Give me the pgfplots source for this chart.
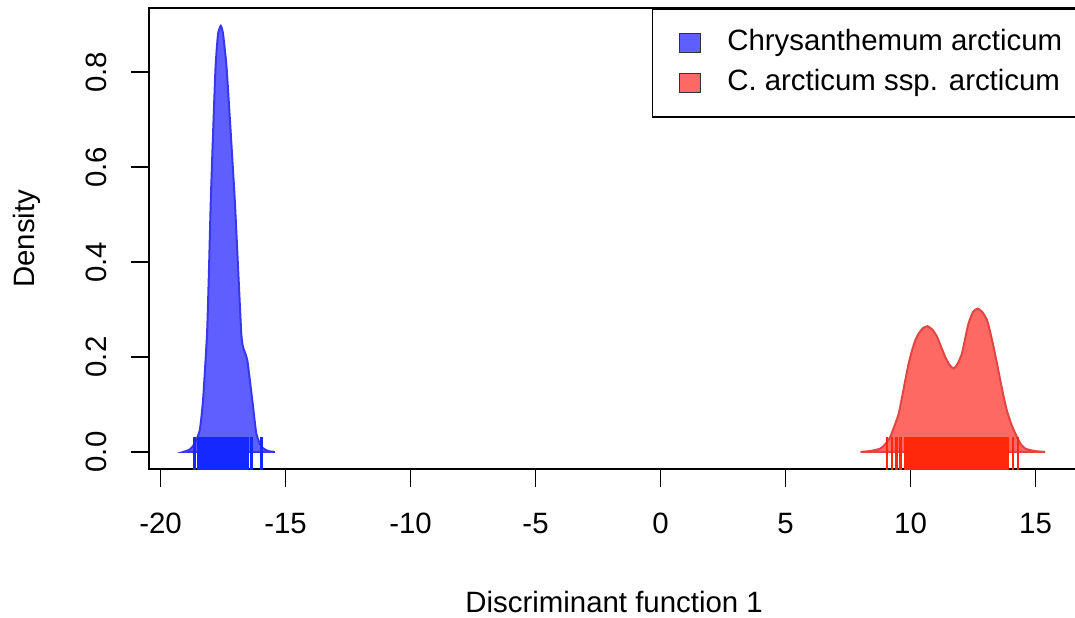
\documentclass[border=0pt]{standalone}
\usepackage{fontspec}
\setmainfont{Liberation Sans}
\usepackage{pgfplots}
\pgfplotsset{compat=1.18}
\definecolor{blueFill}{RGB}{95,95,255}
\definecolor{blueLine}{RGB}{55,55,235}
\definecolor{blueRug}{RGB}{20,40,255}
\definecolor{redFill}{RGB}{255,105,100}
\definecolor{redLine}{RGB}{225,70,65}
\definecolor{redRug}{RGB}{255,40,10}
\newcommand\fs{\fontsize{14.7}{17.6}\selectfont}
\begin{document}
\begin{tikzpicture}
\begin{axis}[
  scale only axis, width=464.85pt, height=230.35pt,
  xmin=-20.45, xmax=16.74, ymin=-0.036, ymax=0.935,
  xtick={-20,-15,-10,-5,0,5,10,15},
  ytick={0,0.2,0.4,0.6,0.8},
  xtick pos=left, ytick pos=left,
  tick align=outside, major tick length=9pt,
  tick style={black, line width=0.9pt},
  axis line style={line width=0.9pt},
  /pgf/number format/assume math mode=true,
  tick label style={font=\fs},
  xticklabel style={anchor=north, inner sep=0pt},
  yticklabel style={rotate=90, anchor=south, inner sep=0pt,
     /pgf/number format/.cd, fixed, fixed zerofill, precision=1},
  xticklabel shift=13pt, yticklabel shift=12.3pt,
  xlabel={Discriminant function 1}, ylabel={Density},
  label style={font=\fs},
  xlabel style={at={(rel axis cs:0.5,-0.3104)}, anchor=base},
  ylabel style={at={(rel axis cs:-0.124,0.5)}, anchor=base, rotate=0},
  legend style={at={(rel axis cs:1,1)}, anchor=north east, draw=black,
     line width=0.8pt, fill=white, font=\fs, inner xsep=8pt, inner ysep=10pt,
     row sep=6.2pt, column sep=13.35pt,
     nodes={inner sep=0pt, text height=10.7pt, text depth=3.1pt}},
  legend cell align=left,
]
\addplot[fill=blueFill, draw=blueLine, line width=1pt, smooth, tension=0.3,
  legend image code/.code={\path (2.5pt,0pt); \draw[fill=blueFill, draw=black!80, line width=0.5pt] (7.2pt,-4.6pt) rectangle (17.7pt,4.6pt);}]
 coordinates {
 (-19.09,0) (-18.83,0.005) (-18.63,0.018) (-18.43,0.046) (-18.30,0.109) (-18.14,0.249)
 (-18.06,0.389) (-17.99,0.530) (-17.90,0.670) (-17.80,0.811) (-17.70,0.881) (-17.59,0.898)
 (-17.50,0.881) (-17.36,0.811) (-17.19,0.670) (-17.03,0.530) (-16.90,0.389) (-16.77,0.249)
 (-16.70,0.221) (-16.53,0.193) (-16.33,0.109) (-16.17,0.039) (-15.97,0.011) (-15.70,0.002)
 (-15.43,0)
 } \closedcycle;
\addlegendentry{Chrysanthemum arcticum}
\addplot[fill=redFill, draw=redLine, line width=1pt, smooth, tension=0.3,
  legend image code/.code={\path (2.5pt,0pt); \draw[fill=redFill, draw=black!80, line width=0.5pt] (7.2pt,-4.6pt) rectangle (17.7pt,4.6pt);}]
 coordinates {
 (8.00,0) (8.40,0.002) (8.79,0.007) (9.00,0.017) (9.19,0.032) (9.36,0.055) (9.53,0.081)
 (9.66,0.115) (9.79,0.151) (9.92,0.185) (10.06,0.214) (10.19,0.235) (10.32,0.249)
 (10.50,0.261) (10.68,0.265) (10.87,0.258) (11.06,0.243) (11.22,0.222) (11.39,0.200)
 (11.55,0.184) (11.72,0.176) (11.89,0.186) (12.06,0.208) (12.19,0.240) (12.32,0.271)
 (12.50,0.295) (12.68,0.302) (12.87,0.295) (13.06,0.278) (13.19,0.252) (13.32,0.222)
 (13.46,0.186) (13.59,0.151) (13.72,0.118) (13.85,0.088) (14.02,0.060) (14.19,0.039)
 (14.39,0.018) (14.59,0.007) (14.95,0.002) (15.38,0)
 } \closedcycle;
\addlegendentry{C. arcticum ssp. arcticum}
\addplot[only marks, mark=|, mark size=8.25pt, draw=blueRug,
  mark options={line width=1.3pt}, forget plot] coordinates {
 (-18.65,-0.0035) (-18.49,-0.0035) (-18.42,-0.0035) (-18.35,-0.0035) (-18.28,-0.0035)
 (-18.21,-0.0035) (-18.14,-0.0035) (-18.07,-0.0035) (-18.00,-0.0035) (-17.93,-0.0035)
 (-17.86,-0.0035) (-17.79,-0.0035) (-17.72,-0.0035) (-17.65,-0.0035) (-17.58,-0.0035)
 (-17.51,-0.0035) (-17.44,-0.0035) (-17.37,-0.0035) (-17.30,-0.0035) (-17.23,-0.0035)
 (-17.16,-0.0035) (-17.09,-0.0035) (-17.02,-0.0035) (-16.95,-0.0035) (-16.88,-0.0035)
 (-16.81,-0.0035) (-16.74,-0.0035) (-16.67,-0.0035) (-16.60,-0.0035) (-16.50,-0.0035)
 (-16.37,-0.0035) (-15.97,-0.0035)
 };
\addplot[only marks, mark=|, mark size=8.25pt, draw=redRug,
  mark options={line width=1.3pt}, forget plot] coordinates {
 (9.06,-0.0035) (9.26,-0.0035) (9.43,-0.0035) (9.59,-0.0035)
 (9.80,-0.0035) (9.88,-0.0035) (9.97,-0.0035) (10.06,-0.0035) (10.15,-0.0035) (10.24,-0.0035)
 (10.32,-0.0035) (10.41,-0.0035) (10.50,-0.0035) (10.58,-0.0035) (10.67,-0.0035) (10.76,-0.0035)
 (10.84,-0.0035) (10.93,-0.0035) (11.02,-0.0035) (11.10,-0.0035) (11.19,-0.0035) (11.28,-0.0035)
 (11.36,-0.0035) (11.45,-0.0035) (11.54,-0.0035) (11.62,-0.0035) (11.71,-0.0035) (11.80,-0.0035)
 (11.88,-0.0035) (11.97,-0.0035) (12.06,-0.0035) (12.14,-0.0035) (12.23,-0.0035) (12.32,-0.0035)
 (12.40,-0.0035) (12.49,-0.0035) (12.58,-0.0035) (12.66,-0.0035) (12.75,-0.0035) (12.84,-0.0035)
 (12.92,-0.0035) (13.01,-0.0035) (13.10,-0.0035) (13.18,-0.0035) (13.27,-0.0035) (13.36,-0.0035)
 (13.44,-0.0035) (13.53,-0.0035) (13.62,-0.0035) (13.70,-0.0035) (13.79,-0.0035) (13.88,-0.0035)
 (14.10,-0.0035) (14.30,-0.0035)
 };
\end{axis}
\pgfresetboundingbox
\useasboundingbox (-74.65pt,-74pt) rectangle (462.85pt,234.5pt);
\end{tikzpicture}
\end{document}
